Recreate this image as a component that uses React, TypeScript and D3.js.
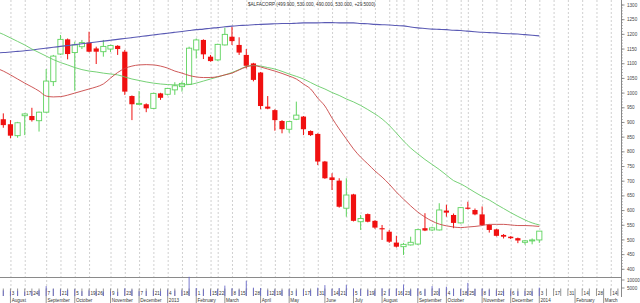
import React from 'react';
import * as d3 from 'd3';

const W = 640;
const H = 303;

const title = '$ALFACORP (499.900, 530.000, 490.000, 530.000, +29.5000)';

// weekly candles, week 0 = 27 Jul 2012 ... week 75 = 3 Jan 2014
const openP = [911,894,855,923,922,906,935,1039,1133,1183,1138,1158,1172,1152,1141,1150,1161,1141,990,962,962,948,999,996,1011,1022,1030,1147,1181,1124,1113,1164,1192,1164,1130,1101,1070,954,942,905,877,911,920,871,861,767,713,702,608,655,562,588,565,540,528,491,477,483,486,540,534,534,600,585,558,610,602,587,551,536,517,511,506,492,497,499.9];
const highP = [931,908,902,931,950,937,1082,1130,1198,1186,1175,1181,1209,1158,1181,1165,1163,1147,992,1007,965,1001,1001,1018,1037,1039,1158,1186,1183,1130,1168,1223,1226,1190,1150,1103,1072,990,945,908,905,971,922,873,863,769,727,710,710,657,585,590,567,551,534,514,490,511,538,591,545,625,620,590,612,630,607,614,553,538,520,513,508,500,505,530];
const lowP = [882,846,848,857,903,869,933,1024,1130,1115,1008,1150,1139,1099,1124,1140,1130,994,908,960,935,946,977,992,994,1005,1028,1118,1116,1107,1110,1162,1164,1130,1084,1040,945,945,872,863,865,908,857,854,755,708,670,610,579,563,534,560,538,500,490,474,449,481,483,530,530,532,579,540,556,604,584,549,525,512,505,503,489,484,485,490];
const closeP = [891,855,899,929,908,935,1041,1126,1183,1133,1164,1172,1141,1141,1159,1162,1150,1005,962,965,948,999,984,1016,1025,1033,1153,1181,1132,1109,1166,1200,1177,1138,1093,1045,956,947,908,877,903,925,877,857,767,710,704,613,653,565,573,562,542,536,494,477,485,492,535,532,541,602,593,558,610,606,587,551,534,514,511,506,498,497,500,530];
const volume = [3500,3000,3200,2800,3000,3600,6200,4500,4000,3800,4200,3000,3500,3200,2800,3000,2600,4800,4000,3000,3200,3500,3000,3800,3400,3600,12000,5000,4000,3600,4200,6500,4800,4000,9500,5200,5000,3600,4000,3800,4200,3500,4000,3600,5200,6800,4500,5000,7000,4600,4200,3800,3600,4800,4200,4600,7200,4000,4800,4200,6200,4800,5800,4500,4200,8200,4400,4600,4000,3600,3200,3400,3000,3200,3000,5200];

// moving averages, starting one week before the first candle (week -1)
const maBlue = [1137,1138,1140,1142,1144,1147,1150,1153,1156,1159,1162,1165,1168,1171,1174,1177,1180,1183,1186,1189,1192,1195,1198,1201,1204,1207,1210,1213,1216,1218,1221,1223,1226,1228,1230,1231,1233,1234,1235,1236,1237,1237,1238,1239,1239,1239,1240,1240,1239,1239,1239,1237,1236,1234,1233,1232,1230,1229,1225,1222,1220,1218,1217,1216,1214,1213,1211,1209,1207,1206,1205,1203,1202,1201,1199,1197,1195];
const maRed = [1085,1075,1062,1048,1034,1021,1007,990,987,988,993,1000,1007,1014,1021,1031,1051,1070,1084,1092,1096,1097,1096,1092,1085,1075,1068,1060,1055,1053,1053,1056,1062,1068,1079,1089,1094,1089,1082,1075,1067,1058,1048,1031,1014,983,956,915,878,844,810,782,759,735,714,690,663,639,616,595,578,564,554,548,544,542,544,546,549,553,553,553,551,549,549,548,546];
const maGreen = [1210,1200,1188,1176,1164,1150,1138,1126,1114,1104,1096,1087,1080,1075,1072,1068,1065,1062,1055,1048,1043,1038,1034,1031,1029,1028,1028,1029,1034,1041,1048,1055,1062,1070,1080,1091,1094,1092,1087,1082,1074,1065,1057,1048,1036,1024,1014,1002,992,980,970,958,944,929,912,890,864,837,813,793,774,757,740,721,702,691,677,662,648,636,621,607,593,580,568,558,551];

// time axis (week index -> label)
const dayTickWeeks = [1,3,4,6,8,10,12,13,15,17,19,21,23,25,27,29,30,32,33,35,37,38,40,42,44,46,47,49,51,53,55,56,58,60,62,64,65,67,69,71,73,75,77,79,81,83,85];
const dayTickLabels = ['3','17','24','7','21','5','19','26','9','23','7','21','4','18','1','15','22','8','15','28','12','19','3','17','31','14','21','5','19','2','16','23','6','20','4','18','25','8','22','6','20','3','17','31','14','28','14'];
const monthWeeks = [1,6,10,15,19,23,27,31,36,40,45,49,53,58,62,67,71,75,80,84];
const monthLabels = ['August','September','October','November','December','2013','February','March','April','May','June','July','August','September','October','November','December','2014','February','March'];
const gridWeeks = [1,3,6,8,10,12,15,17,19,21,23,25,27,29,30,32,34,36,38,40,42,44,46,48,50,52,54,55,56,58,60,62,64,65,67,69,71,73,75,77,79,81,83,85];
const allWeeks = d3.range(0, 87);

const priceTicks = d3.range(400, 1301, 50);
const priceMinor = d3.range(400, 1301, 10);
const volTicks = [10000, 5000];

const FONT = '"Liberation Sans", Arial, sans-serif';

export default function App() {
  const x = d3.scaleLinear().domain([0, 75]).range([3.3, 539.3]);
  const y = d3.scaleLinear().domain([400, 1300]).range([269.3, 5]);
  const yv = d3.scaleLinear().domain([0, 10000]).range([296, 280]);
  const bw = 5.2;

  const maLine = (arr: number[]) =>
    d3.line<number>().x((_, i) => x(i - 1)).y((d) => y(d)).curve(d3.curveMonotoneX)(arr) || '';

  const axisX = 621.5;

  return (
    <svg width={W} height={H} style={{ position: 'absolute', left: 0, top: 0, background: '#fff' }} fontFamily={FONT}>
      <rect x={0} y={0} width={W} height={H} fill="#fff" />
      {/* vertical dashed grid */}
      {gridWeeks.map((w) => (
        <line key={'g' + w} x1={x(w) + 0.5} x2={x(w) + 0.5} y1={0} y2={292} stroke="#c4c4c4" strokeWidth={0.8} strokeDasharray="2,2" />
      ))}
      {/* separator line between price and volume */}
      <line x1={0} x2={axisX} y1={277.5} y2={277.5} stroke="#8a8a8a" strokeWidth={1} />

      {/* candles */}
      {openP.map((o, i) => {
        const c = closeP[i];
        const up = c >= o;
        const col = up ? '#5fd35f' : '#f01010';
        const top = y(Math.max(o, c));
        const bot = y(Math.min(o, c));
        const hgt = Math.max(1, bot - top);
        return (
          <g key={'c' + i}>
            <line x1={x(i)} x2={x(i)} y1={y(highP[i])} y2={y(lowP[i])} stroke={col} strokeWidth={1} />
            {up ? (
              <rect x={x(i) - bw / 2} y={top} width={bw} height={hgt} fill="#ffffff" stroke={col} strokeWidth={0.9} />
            ) : (
              <rect x={x(i) - bw / 2} y={top} width={bw} height={hgt} fill={col} />
            )}
          </g>
        );
      })}

      {/* moving averages */}
      <path d={maLine(maBlue)} fill="none" stroke="#5a5ab4" strokeWidth={1.1} />
      <path d={maLine(maGreen)} fill="none" stroke="#66cc66" strokeWidth={0.9} />
      <path d={maLine(maRed)} fill="none" stroke="#c84646" strokeWidth={0.9} />

      {/* weekly ticks */}
      {allWeeks.map((w) => (
        <line key={'t' + w} x1={x(w)} x2={x(w)} y1={288.5} y2={296} stroke="#7a7a7a" strokeWidth={0.8} />
      ))}
      {/* volume */}
      {volume.map((v, i) => (
        <line key={'v' + i} x1={x(i)} x2={x(i)} y1={yv(v)} y2={296} stroke="#6a6ac8" strokeWidth={0.9} />
      ))}
      {/* day labels */}
      {dayTickWeeks.map((w, k) => (
        <text key={'d' + w} x={x(w) + 1.4} y={295.3} fontSize={4.6} fill="#333">
          {dayTickLabels[k]}
        </text>
      ))}
      {/* month labels */}
      {monthWeeks.map((w, k) => (
        <g key={'m' + k}>
          <line x1={x(w)} x2={x(w)} y1={296} y2={303} stroke="#7a7a7a" strokeWidth={0.8} />
          <text x={x(w) + 1.2} y={301.8} fontSize={4.6} fill="#333">
            {monthLabels[k]}
          </text>
        </g>
      ))}

      {/* right price axis */}
      <line x1={axisX} x2={axisX} y1={0} y2={297} stroke="#8a8a8a" strokeWidth={1} />
      {priceMinor.map((v) => (
        <line key={'pm' + v} x1={axisX} x2={axisX + 1.5} y1={y(v)} y2={y(v)} stroke="#8a8a8a" strokeWidth={0.6} />
      ))}
      {priceTicks.map((v) => (
        <g key={'p' + v}>
          <line x1={axisX} x2={axisX + 3} y1={y(v)} y2={y(v)} stroke="#777" strokeWidth={0.8} />
          <text x={axisX + 5.5} y={y(v) + 1.6} fontSize={4.6} fill="#444">
            {v}
          </text>
        </g>
      ))}
      {volTicks.map((v) => (
        <g key={'vt' + v}>
          <line x1={axisX} x2={axisX + 3} y1={yv(v)} y2={yv(v)} stroke="#777" strokeWidth={0.8} />
          <text x={axisX + 5.5} y={yv(v) + 1.6} fontSize={4.6} fill="#444">
            {v}
          </text>
        </g>
      ))}

      {/* title */}
      <text x={248} y={6} fontSize={4.6} fill="#333">
        {title}
      </text>
    </svg>
  );
}
